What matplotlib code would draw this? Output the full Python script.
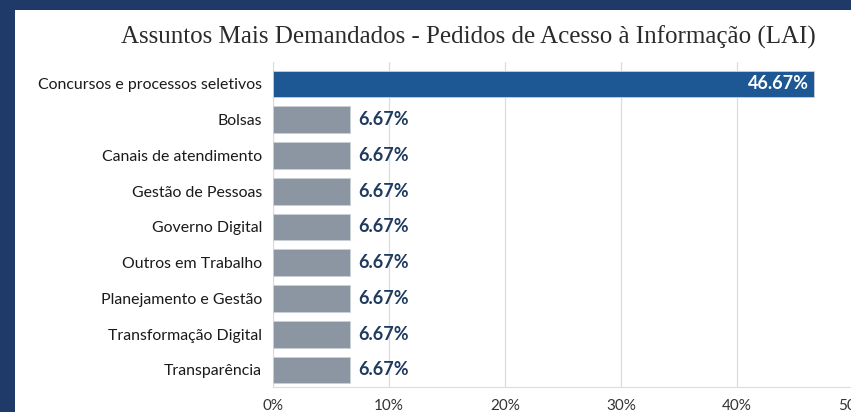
import matplotlib
matplotlib.use("Agg")
import matplotlib.pyplot as plt
from matplotlib.patches import Rectangle

categories = ["Concursos e processos seletivos", "Bolsas", "Canais de atendimento",
              "Gestão de Pessoas", "Governo Digital", "Outros em Trabalho",
              "Planejamento e Gestão", "Transformação Digital", "Transparência"]
values = [46.67, 6.67, 6.67, 6.67, 6.67, 6.67, 6.67, 6.67, 6.67]
xticks = [0, 10, 20, 30, 40, 50]
xticklabels = ["0%", "10%", "20%", "30%", "40%", "50%"]
title = "Assuntos Mais Demandados - Pedidos de Acesso à Informação (LAI)"

W, H = 851, 412
fig = plt.figure(figsize=(W / 100, H / 100), dpi=100)
fig.patch.set_facecolor("#1f3a68")
fig.patches.append(Rectangle((15 / W, 0), 1, 1 - 10 / H, transform=fig.transFigure,
                             facecolor="white", edgecolor="none", zorder=-5))

fig.text(468 / W, 1 - 37 / H, title, ha="center", va="center",
         fontfamily="Liberation Serif", fontsize=18, color="#2b2b2b")

ax = fig.add_axes([273 / W, (H - 387) / H, (853 - 273) / W, (387 - 62) / H])
ax.set_facecolor("none")
colors = ["#1d5794"] + ["#8b96a2"] * (len(values) - 1)
ypos = list(range(len(categories)))
ax.barh(ypos, values, height=0.75, color=colors, edgecolor="#c9d0d6", linewidth=0.6, zorder=3)
ax.set_ylim(8.476, -0.615)
ax.set_xlim(0, 50)
ax.set_xticks(xticks)
ax.set_xticklabels(xticklabels, fontfamily="Lato", fontsize=11, color="#333333")
ax.set_yticks(ypos)
ax.set_yticklabels(categories, fontfamily="Lato", fontsize=11.4, color="#1a1a1a")
ax.tick_params(axis="both", length=0)
ax.tick_params(axis="y", pad=8)
ax.tick_params(axis="x", pad=9)
ax.grid(axis="x", color="#dcdcdc", linewidth=0.9, zorder=0)
for s in ["top", "right"]:
    ax.spines[s].set_visible(False)
for s in ["left", "bottom"]:
    ax.spines[s].set_color("#dcdcdc")

for i, v in enumerate(values):
    if i == 0:
        ax.text(v - 0.5, i, f"{v:.2f}%", ha="right", va="center", color="white",
                fontweight="bold", fontfamily="Lato", fontsize=13, zorder=4)
    else:
        ax.text(v + 0.7, i, f"{v:.2f}%", ha="left", va="center", color="#1f3a5f",
                fontweight="bold", fontfamily="Lato", fontsize=13, zorder=4)

fig.savefig("out.png", dpi=100, facecolor=fig.get_facecolor())
